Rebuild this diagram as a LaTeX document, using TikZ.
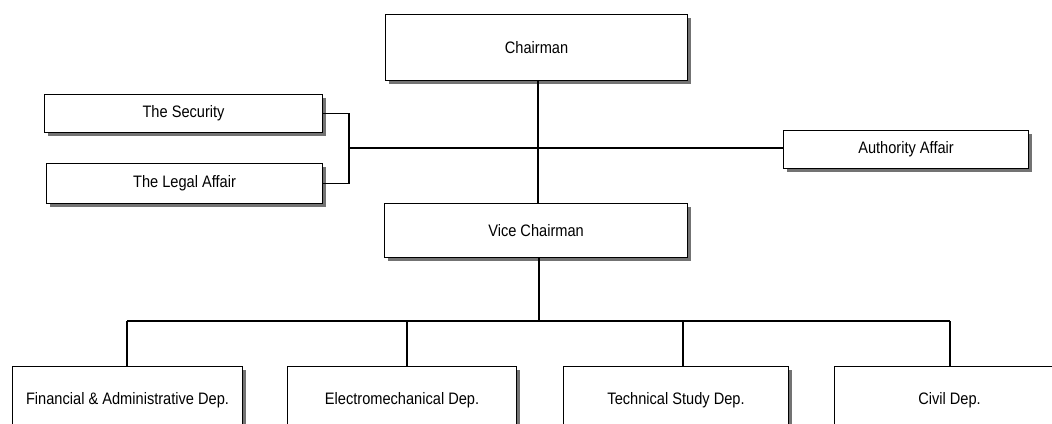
\documentclass[tikz,border=0pt]{standalone}
\usepackage{fontspec}
\setmainfont{Liberation Sans}[FakeStretch=0.88]
\usetikzlibrary{shadows}
\begin{document}
\begin{tikzpicture}[x=1pt,y=-1pt,
  unit/.style={draw=black, line width=1.1pt, fill=white, anchor=north west,
    inner sep=0pt, font=\fontsize{16.6}{19}\selectfont,
    drop shadow={shadow xshift=3.5pt, shadow yshift=-3.5pt, fill=black!55, opacity=1}},
  link/.style={line width=1.1pt, draw=black}]
\useasboundingbox (0,0) rectangle (1052,423);
\clip (0,0) rectangle (1052,423);

% management boxes
\node[unit, minimum width=302pt, minimum height=66pt] (chair) at (385,14) {Chairman};
\node[unit, minimum width=278pt, minimum height=38pt] (sec)   at (44,94)  {The Security};
\node[unit, minimum width=276pt, minimum height=40pt] (legal) at (46,163) {The Legal Affair};
\node[unit, minimum width=245pt, minimum height=38pt] (auth)  at (783,130) {Authority Affair};
\node[unit, minimum width=303pt, minimum height=54pt] (vice)  at (384,203) {Vice Chairman};

% departments
\node[unit, minimum width=230pt, minimum height=68pt] (fin)   at (12,366)  {Financial \& Administrative Dep.};
\node[unit, minimum width=229pt, minimum height=68pt] (elec)  at (287,366) {Electromechanical Dep.};
\node[unit, minimum width=225pt, minimum height=68pt] (tech)  at (563,366) {Technical Study Dep.};
\node[unit, minimum width=230pt, minimum height=68pt] (civil) at (834,366) {Civil Dep.};

% junction points
\coordinate (trunk) at (538,80);
\coordinate (brk)   at (349,148);
\coordinate (vdrop) at (539,257);
\coordinate (bus)   at (539,321);
\coordinate (dfin)  at (127,321);
\coordinate (delec) at (407,321);
\coordinate (dtech) at (683,321);
\coordinate (dcivil) at (950,321);

% chairman to vice chairman
\draw[link] (trunk) -- (trunk |- vice.north);
% staff branch
\draw[link] (brk) -- (brk -| auth.west);
\draw[link] (sec.east) -- (sec.east -| brk) -- (legal.east -| brk) -- (legal.east);
% department bus
\draw[link] (vdrop) -- (bus);
\draw[link] (dfin) -- (dcivil);
\draw[link] (dfin) -- (dfin |- fin.north);
\draw[link] (delec) -- (delec |- elec.north);
\draw[link] (dtech) -- (dtech |- tech.north);
\draw[link] (dcivil) -- (dcivil |- civil.north);
\end{tikzpicture}
\end{document}
